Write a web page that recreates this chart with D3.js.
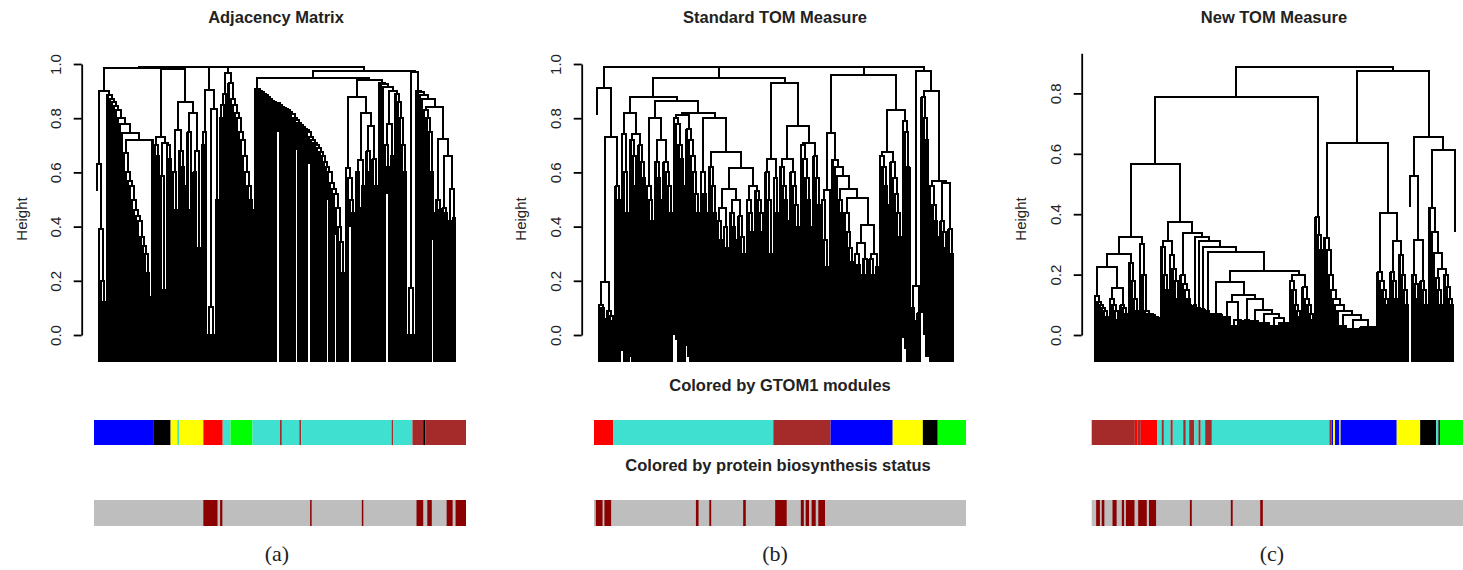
<!DOCTYPE html>
<html><head><meta charset="utf-8">
<script src="https://cdn.jsdelivr.net/npm/d3@7"></script>
<style>body{margin:0;background:#fff}</style>
</head><body>
<svg id="c" width="1463" height="570"></svg>
<script>
// ---------- helpers to write merge chains compactly ----------
function chain(hs, tail) { // staircase descending to the right
  let node = tail === undefined ? 0 : tail;
  for (let i = hs.length - 1; i >= 0; i--) { const v = hs[i]; node = [Math.abs(v), v < 0 ? 's' : 0, node]; }
  return node;
}
function chainL(hs, tail) { // staircase descending to the left
  let node = tail === undefined ? 0 : tail;
  for (let i = hs.length - 1; i >= 0; i--) { const v = hs[i]; node = [Math.abs(v), node, v < 0 ? 's' : 0]; }
  return node;
}

// ---------- DATA ----------
const titles = ["Adjacency Matrix", "Standard TOM Measure", "New TOM Measure"];
const panelLetters = ["(a)", "(b)", "(c)"];
const ticksAB = [0, 0.2, 0.4, 0.6, 0.8, 1.0];
const ticksC = [0, 0.2, 0.4, 0.6, 0.8];

// Panel (a) dendrogram: [height, child, child...]; 0 = leaf, 's' = short leaf
const treeA = [0.99,
  [0.985,
    [0.9,
      [0.63, 's', [0.39, 0, [0.2, 0, [0.12, 0, 0]]]],
      chain([0.885, 0.87, 0.86, 0.845, 0.83, 0.8, 0.78],
        [0.745, 0, [0.72, chain([0.67, 0.6, 0.57, 0.55, 0.5, 0.46, 0.44, 0.42, 0.36, 0.33, 0.3, 0.23, 0.14]), 0]])
    ],
    [0.983,
      [0.73, chain([0.7, 0.66]), [0.71, [0.585, 0, [0.165, 0, 0]], chain([0.7, 0.65])]],
      [0.86,
        [0.755, chain([0.6, 0.46]), [0.68, 0, chain([0.62, 0.55])]],
        [0.82, chain([0.75, 0.46]), [0.68, chain([0.6]), chain([0.32])]]
      ]
    ]
  ],
  [0.905, [0.75, chain([0.7]), 0], [0.835, [0.105, [0, 0, 0], [0, 0, 0]], chain([0.5])]],
  [0.965, chainL([0.89, 0.85, 0.8]), chain([0.93, 0.87, 0.85, 0.82, 0.8, 0.75, 0.72, 0.66, 0.6, 0.55, 0.5, 0.46])],
  [0.975,
    [0.95,
      chain([0.906, 0.9, 0.895, 0.89, 0.885, 0.88, 0.87, 0.862, 0.86, 0.857, 0.855, -0.848, 0.842, 0.838, 0.833, 0.83,
             0.824, 0.815, 0.8, 0.792, -0.783, 0.776, 0.768, 0.76, 0.755, 0.75, -0.73, 0.72, 0.71, 0.7, 0.69, 0.675,
             0.66, 0.64, 0.62, -0.6, 0.56, 0.54, 0.52, -0.47, 0.4, 0.345, 0.23]),
      [0.94,
        [0.88, [0.615, 0, chain([0.58, -0.5, 0.45])],
          [0.82, [0.645, chain([0.6, 0.47]), chain([0.55])], [0.77, chain([0.68, 0.6]), chain([0.65, 0.55])]]],
        chain([0.93, 0.925, 0.915], [0.9, [0.78, chain([0.7, -0.62]), chain([0.66])], chain([0.89, 0.86, 0.8, 0.7, 0.6])])
      ]
    ],
    [0.97,
      [0.175, [0, 0, 0], [0, 0, 0]],
      chain([0.9, 0.895, 0.885, 0.87],
        [0.84, chain([0.83, 0.8, 0.75, 0.6, -0.45]),
          [0.725, chain([0.5, 0.46]), [0.66, chain([0.47, 0.45]), [0.54, [0.42, 0, 0], [0.43, 0, 0]]]]])
    ]
  ]
];

// Panel (b)
const treeB = [0.99,
  [0.91, 's', [0.73,
    [0.195, [0.11, 0, chain([0.1, 0.06])], chain([0.09, 0.07, 0.05])],
    chain([0.55, 0.5])]],
  [0.95,
    [0.88,
      [0.82, chain([0.74, 0.6, 0.45]), [0.74, chain([0.72, 0.66, 0.55]), chain([0.7, 0.64, 0.58])]],
      [0.865,
        [0.8, chain([0.55, 0.5, 0.42]), [0.72, chain([0.64, 0.58, 0.5]), chain([0.64, 0.6, 0.55, 0.45])]],
        [0.82,
          [0.81, chain([0.8, 0.78, 0.7, 0.65, 0.55]), chain([0.76, 0.72, 0.66, 0.6, 0.52, 0.45])],
          [0.8, chain([0.6, 0.52, 0.45]),
            [0.675, chain([0.62, 0.55, 0.45]),
              [0.615,
                [0.54, [0.47, chain([0.42, 0.35]), chain([0.4, 0.32])], [0.5, chain([0.45, 0.4, 0.35]), chain([0.44, 0.36, 0.3])]],
                [0.55, chain([0.5, 0.45, 0.38]), chain([0.53, 0.5, 0.45, 0.38])]]]]]]],
    [0.93,
      [0.65, chain([0.6, 0.5, 0.3]), chain([0.58, 0.45])],
      [0.77,
        [0.65, chain([0.62, 0.55, 0.5, 0.42]), chain([0.6, 0.55, 0.48, 0.4])],
        [0.71, chain([0.7, 0.65, 0.58, 0.5, 0.4]), chain([0.66, 0.58, 0.48])]]]],
  [0.96,
    [0.745, [0.535, chain([0.5, 0.35, 0.25]), 0],
      [0.645, 0, [0.62, 0, [0.585, 0, [0.54, chain([0.5, 0.45]),
        [0.505, chain([0.45, 0.38, 0.32, 0.27]),
          [0.405, [0.34, chain([0.3, 0.26, 0.22]), chain([0.28, 0.22])], [0.3, chain([0.28, 0.22]), chain([0.25])]]]]]]]],
    [0.83, [0.675, chain([0.66, 0.62, 0.55, 0.48]), chain([0.64, 0.58, 0.52, 0.45, 0.36])], chain([0.79, 0.75, 0.62])]],
  [0.975,
    [0.18, chain([0.1, 0.05]), chain([0.08])],
    [0.9, chain([0.88, 0.8, 0.72]), [0.57, chain([0.55, 0.48, 0.42, 0.36]), [0.56, chain([0.42, 0.38, 0.32]), chain([0.39, 0.3])]]]]
];

// Panel (c)
const treeC = [0.888,
  [0.789,
    [0.566,
      [0.323,
        [0.267,
          [0.226, chain([0.13, 0.11, 0.1, 0.09, 0.08, 0.06]), [0.155, chain([0.12, 0.1, 0.08, 0.05]), chain([0.1, 0.09, 0.07])]],
          chain([0.24, 0.18, 0.12, 0.08])],
        chain([0.3, 0.2, 0.08, 0.07, 0.07, 0.065, 0.06, 0.06, 0.055])],
      [0.375,
        [0.31, chain([0.29, 0.2, 0.15]), chain([0.265, 0.22, 0.18, 0.12])],
        [0.337, chain([0.2, 0.17, 0.15, 0.12, 0.1]),
          [0.323, [0.1, 0, 0], [0.31, [0.09, 0, 0], [0.29, [0.085, 0, 0], [0.274, [0.08, 0, 0],
            [0.212,
              [0.177, [0.07, 0, 0, 0, 0, 0, 0],
                [0.132, [0.11, [0.06, 0, 0, 0, 0], [0.05, [0.03, 0, 0, 0], [0.045, 0, 0, 0]]],
                  [0.12, [0.05, 0, 0, 0],
                    [0.083, [0.045, 0, 0, 0, 0], [0.07, [0.04, 0, 0, 0, 0, 0], [0.055, [0.03, 0, 0, 0, 0], [0.04, 0, 0, 0, 0, 0]]]]]]],
              [0.2, chain([0.18, 0.15, 0.1, 0.08, 0.06]), chain([0.16, 0.12, 0.1, 0.07, 0.05])]]]]]]]]],
    chain([0.39, 0.33, 0.28])],
  [0.873,
    [0.636,
      chain([0.32, 0.28, 0.2, 0.15, 0.12, 0.1, 0.08],
        [0.066, [0.03, 0, 0, 0, 0], [0.05, [0.02, 0, 0, 0, 0, 0, 0], [0.025, 0, 0, 0, 0, 0, 0, 0, 0]]]),
      [0.403, chain([0.21, 0.18, 0.15, 0.12, 0.1]), [0.31, chain([0.21, 0.18, 0.12]), chain([0.265, 0.2, 0.15, 0.1])]]],
    [0.657,
      [0.525, -0.1, [0.315, chain([0.2, 0.17, 0.12]), chain([0.18, 0.15, 0.1])]],
      [0.612, chain([0.42, 0.34, 0.27], [0.22, chain([0.19, 0.15, 0.1]), chain([0.2, 0.16, 0.12, 0.1])]), -0.27]]]
];

// Colour bars: [from, to, colour] in gene-order units 0..1000
const modulesA = [[0,161,"#0000FF"],[161,206,"#000000"],[206,224,"#FFFF00"],[224,229,"#40E0D0"],[229,294,"#FFFF00"],
  [294,346,"#FF0000"],[346,367,"#40E0D0"],[367,426,"#00FF00"],[426,500,"#40E0D0"],[500,505,"#A52A2A"],[505,552,"#40E0D0"],
  [552,557,"#A52A2A"],[557,800,"#40E0D0"],[800,804,"#A52A2A"],[804,856,"#40E0D0"],[856,885,"#A52A2A"],[885,891,"#000000"],
  [891,1000,"#A52A2A"]];
const proteinA = [[294,332],[339,345],[581,585],[720,724],[867,885],[896,908],[948,964],[972,1000]];
const modulesB = [[0,52,"#FF0000"],[52,482,"#40E0D0"],[482,636,"#A52A2A"],[636,803,"#0000FF"],[803,884,"#FFFF00"],
  [884,924,"#000000"],[924,1000,"#00FF00"]];
const proteinB = [[5,23],[28,46],[274,281],[310,315],[401,408],[487,518],[556,564],[569,578],[585,596],[603,621]];
const modulesC = [[0,116,"#A52A2A"],[116,123,"#FF0000"],[123,132,"#A52A2A"],[132,176,"#FF0000"],[176,188,"#40E0D0"],
  [188,194,"#A52A2A"],[194,212,"#40E0D0"],[212,218,"#A52A2A"],[218,246,"#40E0D0"],[246,253,"#A52A2A"],[253,262,"#40E0D0"],
  [262,276,"#A52A2A"],[276,287,"#40E0D0"],[287,293,"#A52A2A"],[293,305,"#40E0D0"],[305,323,"#A52A2A"],[323,639,"#40E0D0"],
  [639,645,"#A52A2A"],[645,649,"#0000FF"],[649,654,"#FFFF00"],[654,666,"#0000FF"],[666,669,"#FFFF00"],[669,820,"#0000FF"],
  [820,883,"#FFFF00"],[883,926,"#000000"],[926,932,"#40E0D0"],[932,936,"#000000"],[936,1000,"#00FF00"]];
const proteinC = [[12,22],[27,34],[56,67],[81,87],[92,115],[125,148],[154,173],[264,269],[374,379],[453,460]];

// ---------- DRAWING ----------
const svg = d3.select("#c");
svg.append("rect").attr("width", 1463).attr("height", 570).attr("fill", "#fff");
const SANS = "'Liberation Sans', Arial, Helvetica, sans-serif";
const LW = 1.8;

function build(node) {
  if (Array.isArray(node)) return { h: node[0], children: node.slice(1).map(build) };
  if (node === 's') return { leaf: true, hang: 0.1 };
  return { leaf: true, hang: node < 0 ? -node : null };
}

function drawDendro(tree, o) {
  const root = d3.hierarchy(build(tree));
  const leaves = root.leaves();
  const x = d3.scaleLinear().domain([0, leaves.length - 1]).range(o.xr);
  leaves.forEach((l, i) => { l.px = x(i); });
  root.eachAfter(n => { if (n.children) n.px = (n.children[0].px + n.children[n.children.length - 1].px) / 2; });
  const sp = x(1) - x(0);
  const hs = [], vs = [];
  root.each(n => {
    if (!n.children) return;
    const yh = o.y(n.data.h);
    hs.push({ x1: n.children[0].px, x2: n.children[n.children.length - 1].px, y: yh });
    n.children.forEach(c => {
      let b;
      if (c.children) b = c.data.h;
      else if (c.data.hang != null) b = n.data.h - c.data.hang;
      else b = Math.max(n.data.h - o.H, o.floor);
      vs.push({ x: c.px, y1: yh, y2: o.y(b), w: c.children ? 2 : Math.max(2, sp + 0.6) });
    });
  });
  const g = svg.append("g").attr("shape-rendering", "crispEdges");
  g.selectAll("line.v").data(vs).join("line").attr("class", "v")
    .attr("x1", d => d.x).attr("x2", d => d.x).attr("y1", d => d.y1).attr("y2", d => d.y2)
    .attr("stroke", "#000").attr("stroke-width", d => d.w);
  g.selectAll("line.h").data(hs).join("line").attr("class", "h")
    .attr("x1", d => d.x1).attr("x2", d => d.x2).attr("y1", d => d.y).attr("y2", d => d.y)
    .attr("stroke", "#000").attr("stroke-width", 2).attr("stroke-linecap", "square");
}

function drawAxis(y, ax, ticks, cx, labX) {
  const g = svg.append("g").attr("transform", `translate(${ax},0)`)
    .call(d3.axisLeft(y).tickValues(ticks).tickSize(8).tickSizeOuter(0).tickFormat(d3.format(".1f")));
  g.select(".domain").attr("stroke", "#000").attr("stroke-width", LW);
  g.selectAll(".tick line").attr("stroke", "#000").attr("stroke-width", LW);
  g.selectAll(".tick text").attr("x", null).attr("dy", null)
    .attr("transform", "translate(-20.5,0) rotate(-90)").attr("text-anchor", "middle")
    .attr("font-family", SANS).attr("font-size", 15).attr("fill", "#222");
  svg.append("text").attr("transform", `translate(${labX},219) rotate(-90)`).attr("text-anchor", "middle")
    .attr("font-family", SANS).attr("font-size", 15).attr("fill", "#222").text("Height");
}

function drawBar(x0, x1, y0, y1, segs, base) {
  const x = d3.scaleLinear().domain([0, 1000]).range([x0, x1]);
  const g = svg.append("g");
  if (base) g.append("rect").attr("x", x(0)).attr("y", y0).attr("width", x(1000) - x(0)).attr("height", y1 - y0).attr("fill", base);
  g.selectAll("rect.s").data(segs).join("rect").attr("class", "s")
    .attr("x", d => x(d[0])).attr("y", y0).attr("width", d => x(d[1]) - x(d[0])).attr("height", y1 - y0)
    .attr("fill", d => d[2] || "#8B0000");
}

const yAB = d3.scaleLinear().domain([0, 1]).range([335, 64]);
const yC = d3.scaleLinear().domain([0, 0.933]).range([335, 335 - 0.933 * 302]);

const panels = [
  { tree: treeA, xr: [97, 455], y: yAB, H: Infinity, floor: -0.1, ax: 81.7, ticks: ticksAB, lab: 27, tx: 276,
    bar: [94, 466], mods: modulesA, prot: proteinA, px: 277 },
  { tree: treeB, xr: [597, 953], y: yAB, H: 0.8, floor: -0.1, ax: 581.7, ticks: ticksAB, lab: 525.5, tx: 775,
    bar: [594, 966], mods: modulesB, prot: proteinB, px: 775 },
  { tree: treeC, xr: [1095, 1455], y: yC, H: Infinity, floor: -0.09, ax: 1081.7, ticks: ticksC, lab: 1025.5, tx: 1274,
    bar: [1091.7, 1463.7], mods: modulesC, prot: proteinC, px: 1272 }
];

panels.forEach((p, i) => {
  drawDendro(p.tree, p);
  drawAxis(p.y, p.ax, p.ticks, 0, p.lab);
  svg.append("text").attr("x", p.tx).attr("y", 23).attr("text-anchor", "middle")
    .attr("font-family", SANS).attr("font-weight", "bold").attr("font-size", 16.5).attr("fill", "#222").text(titles[i]);
  drawBar(p.bar[0], p.bar[1], 420, 445, p.mods, null);
  drawBar(p.bar[0], p.bar[1], 500, 526, p.prot, "#BEBEBE");
  svg.append("text").attr("x", p.px).attr("y", 561).attr("text-anchor", "middle")
    .attr("font-family", "'Liberation Serif', 'Times New Roman', serif").attr("font-size", 22).attr("fill", "#222").text(panelLetters[i]);
});

svg.append("text").attr("x", 780).attr("y", 391).attr("text-anchor", "middle")
  .attr("font-family", SANS).attr("font-weight", "bold").attr("font-size", 16.5).attr("fill", "#222").text("Colored by GTOM1 modules");
svg.append("text").attr("x", 778).attr("y", 471).attr("text-anchor", "middle")
  .attr("font-family", SANS).attr("font-weight", "bold").attr("font-size", 16.5).attr("fill", "#222").text("Colored by protein biosynthesis status");
</script></body></html>
